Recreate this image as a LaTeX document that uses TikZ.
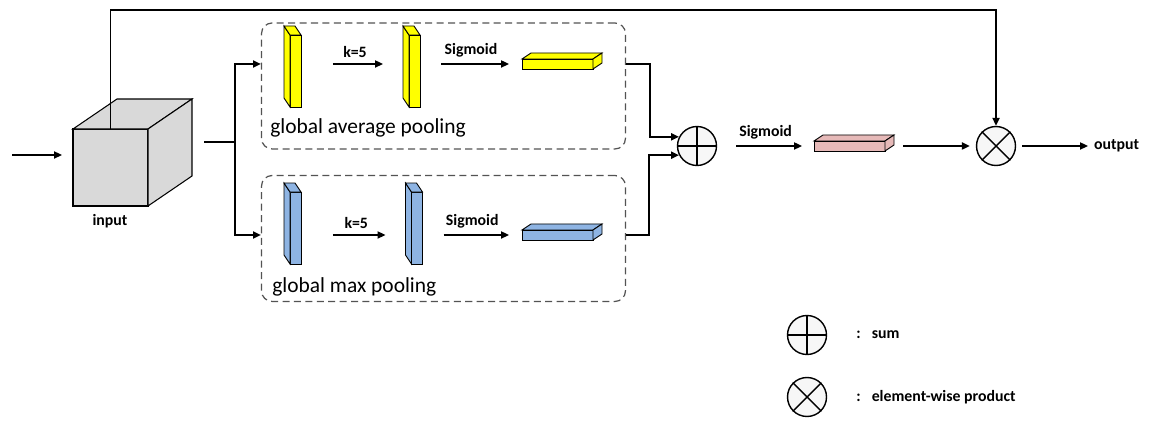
\documentclass[tikz,border=0pt]{standalone}
\usepackage{fontspec}
\setmainfont{Carlito}
\usepackage{tikz}
\usetikzlibrary{arrows.meta,
                calc,
                positioning}

\definecolor{cubegray}{HTML}{D9D9D9}
\definecolor{yel}{HTML}{FFFF00}
\definecolor{blu}{HTML}{8EB4E3}
\definecolor{pinkbar}{HTML}{E6B9B8}

\tikzset{
  arr/.style={-{Triangle[length=4.5pt,width=4pt]}, line width=1pt},
  lbl/.style={font=\bfseries\fontsize{9}{11}\selectfont},
  poolbox/.style={draw=gray!65!black, line width=0.7pt, dash pattern=on 4pt off 2.5pt,
                  rounded corners=6pt, minimum width=7.28cm, minimum height=2.52cm},
  slab/.style={draw, line width=0.5pt, inner sep=0, outer sep=0,
               minimum width=0.22cm, minimum height=1.44cm},
  flat/.style={draw, line width=0.5pt, inner sep=0, outer sep=0,
               minimum width=1.42cm, minimum height=0.2cm},
  op/.style={circle, draw, line width=0.8pt, fill=gray!6, minimum size=0.78cm, inner sep=0}
}

\begin{document}
\begin{tikzpicture}[x=0.02cm, y=-0.02cm]
\useasboundingbox (0,0) rectangle (1151,421);

% input block
\node[draw, fill=cubegray, line width=0.6pt, outer sep=0,
      minimum width=1.5cm, minimum height=1.54cm] (cube) at (110.5,167.5) {};
\draw[fill=cubegray, line width=0.6pt] (cube.north west) -- ++(44,-30) -- ++(75,0) -- (cube.north east) -- cycle;
\draw[fill=cubegray, line width=0.6pt] (cube.north east) -- ++(44,-30) -- ++(0,77) -- (cube.south east) -- cycle;
\node[lbl] (inlab) at (110,221) {input};

\coordinate (in) at (12,155);
\draw[arr, shorten >=0.22cm] (in) -- (cube.west |- in);

% two pooling branches
\node[poolbox] (avgbox) at (443.5,86) {};
\node[poolbox] (maxbox) at (443.5,238.5) {};

\node[slab, fill=yel] (avg1) at (295.5,71) {};
\node[slab, fill=yel] (avg2) at (414.5,71) {};
\node[slab, fill=blu] (max1) at (295.5,228) {};
\node[slab, fill=blu] (max2) at (417,228) {};
\foreach \n/\c in {avg1/yel, avg2/yel, max1/blu, max2/blu}{
  \draw[fill=\c, line width=0.5pt] (\n.north west) -- ++(-6,-9) -- ++(0,72) -- (\n.south west) -- cycle;
  \draw[fill=\c, line width=0.5pt] (\n.north west) -- ++(-6,-9) -- ++(11,0) -- (\n.north east) -- cycle;
}

\node[flat, fill=yel] (avgbar) at (557.5,64) {};
\node[flat, fill=blu] (maxbar) at (557.5,235) {};
\node[flat, fill=pinkbar] (attbar) at (849.5,146) {};
\foreach \n/\c in {avgbar/yel, maxbar/blu, attbar/pinkbar}{
  \draw[fill=\c, line width=0.5pt] (\n.north west) -- ++(9,-6) -- ++(71,0) -- (\n.north east) -- cycle;
  \draw[fill=\c, line width=0.5pt] (\n.north east) -- ++(9,-6) -- ++(0,10) -- (\n.south east) -- cycle;
}

\draw[arr, shorten <=0.64cm, shorten >=0.52cm] (avg1.east |- avgbar) -- node[lbl, above] {k=5} (avg2.west |- avgbar);
\draw[arr, shorten <=0.42cm, shorten >=0.26cm] (avg2.east |- avgbar) -- node[lbl, above] {Sigmoid} (avgbar.west);
\draw[arr, shorten <=0.64cm, shorten >=0.52cm] (max1.east |- maxbar) -- node[lbl, above] {k=5} (max2.west |- maxbar);
\draw[arr, shorten <=0.42cm, shorten >=0.26cm] (max2.east |- maxbar) -- node[lbl, above] {Sigmoid} (maxbar.west);

\node[anchor=west, inner sep=0, font=\fontsize{12.2}{14}\selectfont] (avglab) at (270,128) {global average pooling};
\node[anchor=west, inner sep=0, font=\fontsize{12.2}{14}\selectfont] (maxlab) at (272,287) {global max pooling};

% split into the branches
\coordinate (br) at (204,142);
\coordinate (split) at (235,142);
\draw[line width=1pt] (br) -- (split);
\draw[arr] (split) |- (avgbox.west |- avgbar);
\draw[arr] (split) |- (maxbox.west |- maxbar);

% sum, attention, product
\node[op] (sum) at (697,146) {};
\node[op] (prod) at (996,146) {};
\draw[arr] (avgbox.east |- avgbar) -- ++(24,0) |- (sum.153);
\draw[arr] (maxbox.east |- maxbar) -- ++(23,0) |- (sum.207);
\draw[arr, shorten <=0.38cm, shorten >=0.24cm] (sum) -- node[lbl, above] {Sigmoid} (attbar.west);
\draw[arr, shorten <=0.36cm, shorten >=0.12cm] (attbar.east) -- (prod);

\node[lbl, anchor=west] (out) at (1088,146) {output};
\draw[arr, shorten <=0.12cm] (prod) -- (out);

\draw[arr] (cube.north) -- ++(0,-119) -| (prod.north);

% legend
\node[op] (lsum) at (807,335) {};
\node[op] (lprod) at (807,397) {};
\foreach \n in {sum, lsum}
  \draw[line width=0.8pt] (\n.north) -- (\n.south) (\n.west) -- (\n.east);
\foreach \n in {prod, lprod}
  \draw[line width=0.8pt] (\n.45) -- (\n.225) (\n.135) -- (\n.315);
\node[lbl, anchor=west, inner sep=0] (sumlab) at (856,335) {:\hspace{0.7em}sum};
\node[lbl, anchor=west, inner sep=0] (prodlab) at (856,397) {:\hspace{0.7em}element-wise product};
\end{tikzpicture}
\end{document}
